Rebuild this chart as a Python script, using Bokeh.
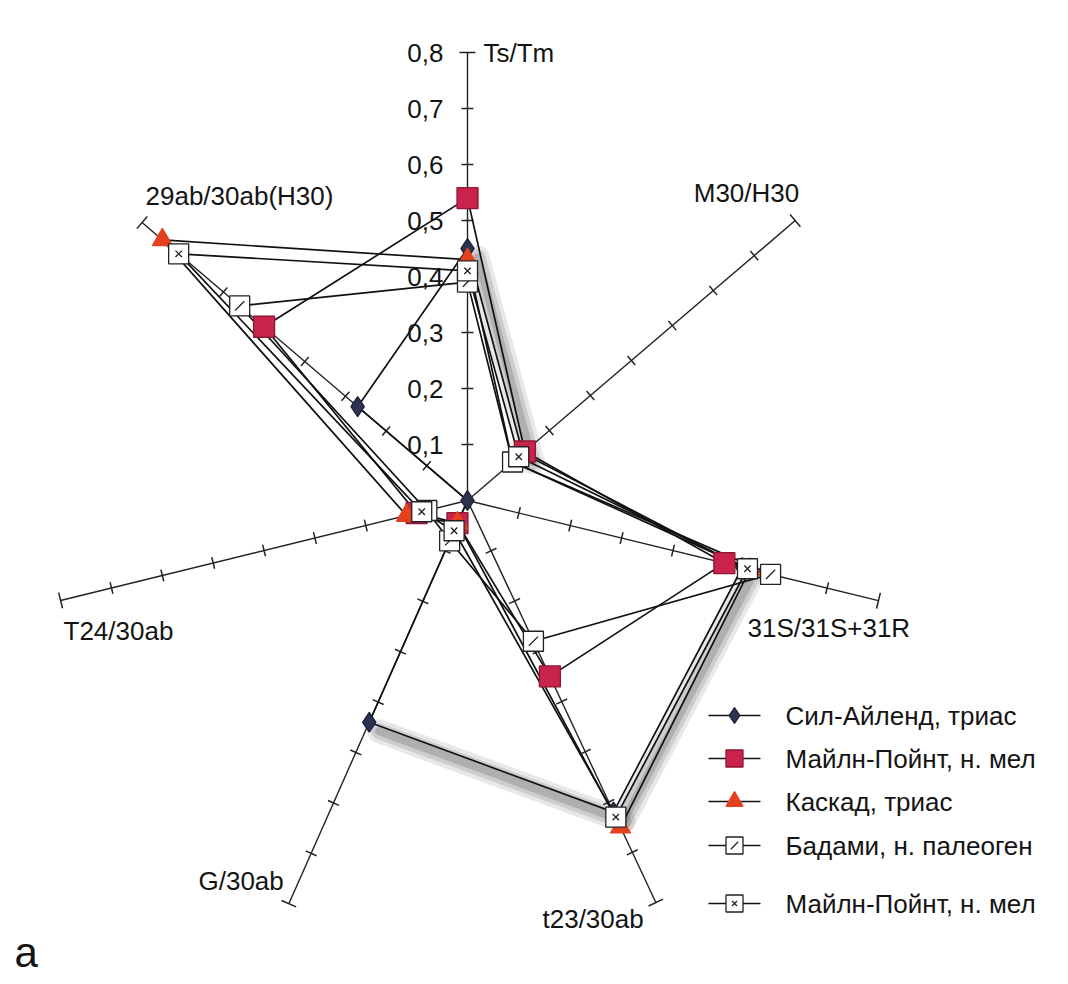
import math
from bokeh.plotting import figure
from bokeh.models import Range1d
from bokeh.core.properties import value
from bokeh.embed import file_html
from bokeh.resources import INLINE

# ---------------- data ----------------
axis_labels = ["Ts/Tm", "M30/H30", "31S/31S+31R", "t23/30ab", "G/30ab", "T24/30ab", "29ab/30ab(H30)"]
tick_values = [0.1, 0.2, 0.3, 0.4, 0.5, 0.6, 0.7, 0.8]
tick_labels = ["0,1", "0,2", "0,3", "0,4", "0,5", "0,6", "0,7", "0,8"]

series_names = ["Сил-Айленд, триас", "Майлн-Пойнт, н. мел", "Каскад, триас",
                "Бадами, н. палеоген", "Майлн-Пойнт, н. мел"]
sil_ailend = [0.45, 0.135, 0.535, 0.62, 0.44, 0.0, 0.27]
mayln_point = [0.54, 0.14, 0.50, 0.35, 0.045, 0.10, 0.50]
kaskad = [0.43, 0.11, 0.55, 0.65, 0.045, 0.12, 0.75]
badami = [0.39, 0.11, 0.59, 0.28, 0.08, 0.08, 0.56]
mayln_point2 = [0.41, 0.125, 0.545, 0.63, 0.06, 0.09, 0.71]
series_values = [sil_ailend, mayln_point, kaskad, badami, mayln_point2]

# ---------------- layout / style ----------------
W, H = 1068, 984
IMG_H = 984
CX, CY = 467, IMG_H - 500
ANG = [90, 40.5, -13.7, -64.9, -113.9, -166.2, 139.5]
LEN = [448, 431, 423, 444, 441, 419, 428]
VMAX = 0.8
FONT = value("Liberation Sans")
TXT = "#141414"


def Y(y_img):
    return IMG_H - y_img


def pt(i, v):
    r = v / VMAX * LEN[i]
    a = math.radians(ANG[i])
    return CX + r * math.cos(a), CY + r * math.sin(a)


p = figure(width=W, height=H, output_backend="svg", toolbar_location=None,
           x_range=Range1d(0, W), y_range=Range1d(IMG_H - H, IMG_H),
           x_axis_location=None, y_axis_location=None, min_border=0)
p.grid.visible = False
p.outline_line_color = None
p.background_fill_color = "white"
p.border_fill_color = "white"

# ---------------- radial axes ----------------
n = len(axis_labels)
for i in range(n):
    x1, y1 = pt(i, VMAX)
    p.line([CX, x1], [CY, y1], line_color="#222222", line_width=1.4)
    a = math.radians(ANG[i])
    px, py = -math.sin(a), math.cos(a)
    x0s, y0s, x1s, y1s = [], [], [], []
    for tv in tick_values:
        tx, ty = pt(i, tv)
        h = 8 if tv == VMAX else 6
        x0s.append(tx - px * h); y0s.append(ty - py * h)
        x1s.append(tx + px * h); y1s.append(ty + py * h)
    p.segment(x0s, y0s, x1s, y1s, line_color="#222222", line_width=1.5)

# tick labels on Ts/Tm axis
tl_y = [pt(0, tv)[1] for tv in tick_values]
p.text([443] * len(tl_y), tl_y, text=tick_labels, text_font=FONT,
       text_font_size=value("26px"), text_align="right", text_baseline="middle",
       text_color=TXT)

# axis labels
lab_x = [483, 746, 747, 542, 198, 63, 145]
lab_y = [52, 192, 627, 918, 880, 630, 195]
lab_align = ["left", "center", "left", "left", "left", "left", "left"]
for i in range(n):
    p.text([lab_x[i]], [Y(lab_y[i])], text=[axis_labels[i]], text_font=FONT,
           text_font_size=value("26px"), text_align=lab_align[i],
           text_baseline="middle", text_color=TXT)

# ---------------- shadow on the first series ----------------
shadow_segments = [(0, 1), (2, 3), (3, 4)]
for (a_i, b_i) in shadow_segments:
    xa, ya = pt(a_i, sil_ailend[a_i])
    xb, yb = pt(b_i, sil_ailend[b_i])
    for w, al in [(24, 0.12), (16, 0.16), (8, 0.22)]:
        p.line([xa + 10, xb + 10], [ya - 9, yb - 9], line_color="#444444",
               line_width=w, line_alpha=al, line_cap="round")

# ---------------- series ----------------
styles = [
    dict(marker="diamond", size=20, fill="#2b3350", line="#1a1f33"),
    dict(marker="square", size=21, fill="#c9234b", line="#8e1733"),
    dict(marker="triangle", size=20, fill="#e4411f", line="#e4411f"),
    dict(marker="square", size=20, fill="white", line="#222222"),
    dict(marker="square", size=20, fill="white", line="#222222"),
]

for vals in series_values:
    xs = [pt(i, v)[0] for i, v in enumerate(vals)]
    ys = [pt(i, v)[1] for i, v in enumerate(vals)]
    p.line(xs + xs[:1], ys + ys[:1], line_color="#111111", line_width=1.7)


def inner_marks(xs, ys, k, scale=1.0):
    if k == 3:
        p.scatter(xs, ys, marker="dash", size=13 * scale, angle=math.pi / 4,
                  line_color="#222222", line_width=1.3)
    if k == 4:
        p.scatter(xs, ys, marker="x", size=9 * scale, line_color="#222222",
                  line_width=1.3)


for k, (vals, st) in enumerate(zip(series_values, styles)):
    xs = [pt(i, v)[0] for i, v in enumerate(vals)]
    ys = [pt(i, v)[1] for i, v in enumerate(vals)]
    p.scatter(xs, ys, marker=st["marker"], size=st["size"], fill_color=st["fill"],
              line_color=st["line"], line_width=1.3)
    inner_marks(xs, ys, k)

# ---------------- legend (drawn) ----------------
leg_y = [715, 758, 801, 845, 903]
for k, (name, st) in enumerate(zip(series_names, styles)):
    yy = Y(leg_y[k])
    p.line([708, 760], [yy, yy], line_color="#111111", line_width=1.7)
    sz = 17 if k != 0 else 16
    p.scatter([734], [yy], marker=st["marker"], size=sz, fill_color=st["fill"],
              line_color=st["line"], line_width=1.3)
    inner_marks([734], [yy], k, 0.8)
    p.text([785], [yy], text=[name], text_font=FONT, text_font_size=value("26px"),
           text_align="left", text_baseline="middle", text_color=TXT)

# panel letter
p.text([14], [Y(952)], text=["а"], text_font=FONT, text_font_size=value("42px"),
       text_align="left", text_baseline="middle", text_color=TXT)

open("out.html", "w").write(file_html(p, INLINE))
